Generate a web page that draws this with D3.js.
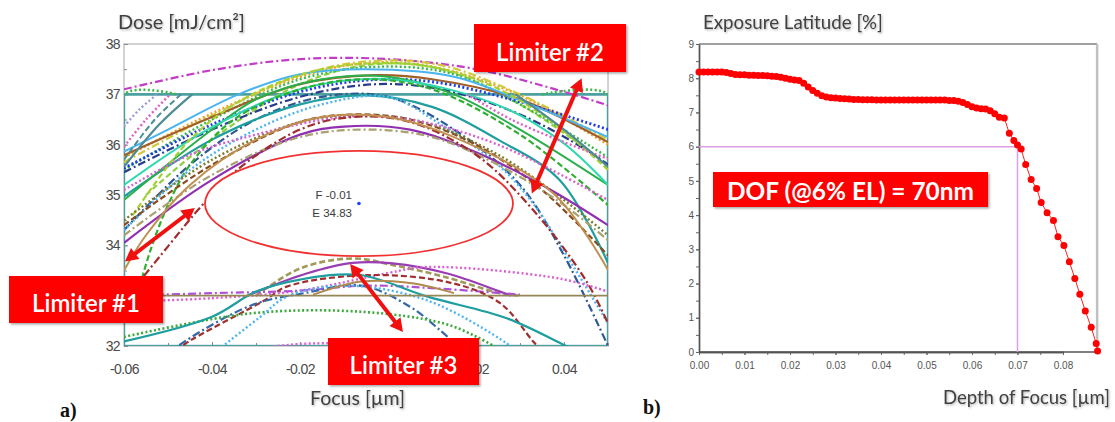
<!DOCTYPE html>
<html>
<head>
<meta charset="utf-8">
<script src="https://cdn.jsdelivr.net/npm/d3@7"></script>
<style>
  html, body { margin: 0; padding: 0; background: #fff; }
  svg { display: block; }
</style>
</head>
<body>
<svg id="fig" width="1115" height="422"></svg>
<script>
// ---------------- Panel (a): dose / focus process window ----------------
const focusTicks = [-0.06, -0.04, -0.02, 0, 0.02, 0.04];
const doseTicks = [32, 33, 34, 35, 36, 37, 38];
// tick labels that sit under the limiter call-outs are left blank
const focusHiddenLabels = [0];
const doseHiddenLabels = [33];

// fitted window: best focus (µm), best dose (mJ/cm²), DOF (µm), EL (%)
const windowFocus = -0.0066;
const windowDose = 34.83;
const windowDOF = 0.070;
const windowEL = 6;

// dose specification lines
const doseUpperSpec = 37;
const doseLowerSpec = 33;

// CD contour lines, [focus, dose] pairs
const upperContours = [
  [[-0.06,37.1],[-0.04,37.48],[-0.02,37.7],[0,37.7],[0.02,37.5],[0.04,37.05],[0.05,36.78]],
  [[-0.06,35.75],[-0.04,36.62],[-0.02,37.35],[-0.005,37.62],[0.01,37.55],[0.03,36.98],[0.05,36.0]],
  [[-0.06,35.65],[-0.04,36.58],[-0.02,37.38],[-0.004,37.66],[0.012,37.58],[0.03,37.0],[0.05,36.1]],
  [[-0.055,35.0],[-0.04,36.1],[-0.02,37.2],[-0.003,37.6],[0.012,37.5],[0.03,36.8],[0.05,35.6]],
  [[-0.06,35.5],[-0.04,36.5],[-0.02,37.3],[-0.002,37.55],[0.015,37.4],[0.03,36.8],[0.05,35.75]],
  [[-0.06,35.79],[-0.04,36.55],[-0.02,37.2],[-0.003,37.38],[0.01,37.3],[0.03,36.9],[0.05,36.05]],
  [[-0.06,35.53],[-0.04,36.4],[-0.02,37.05],[-0.005,37.28],[0.01,37.25],[0.03,36.85],[0.05,36.3]],
  [[-0.06,35.45],[-0.04,36.3],[-0.02,36.95],[-0.003,37.2],[0.012,37.1],[0.03,36.6],[0.045,35.9],[0.05,35.6]],
  [[-0.06,34.3],[-0.045,35.6],[-0.03,36.5],[-0.015,36.95],[0,36.95],[0.015,36.3],[0.03,35.2],[0.04,33.8],[0.05,32.0]],
  [[-0.06,35.86],[-0.05,36.3],[-0.034,37.0],[-0.02,37.4],[-0.005,37.5],[0.015,37.35],[0.035,36.7],[0.05,36.15]],
  [[-0.06,34.97],[-0.04,36.1],[-0.02,36.8],[-0.005,36.98],[0.01,36.75],[0.025,36.1],[0.039,35.3],[0.05,33.65]],
  [[-0.06,34.9],[-0.04,36.3],[-0.03,36.9],[-0.015,37.3],[0,37.35],[0.015,37.0],[0.03,36.3],[0.05,35.2]],
  [[-0.06,35.2],[-0.04,36.35],[-0.02,37.1],[0,37.3],[0.024,36.82],[0.039,36.09],[0.05,35.2]],
  [[-0.058,34.6],[-0.045,36.1],[-0.033,36.9],[-0.015,37.5],[0.005,37.6],[0.02,37.3],[0.035,36.6],[0.05,35.5]],
  [[-0.057,33.0],[-0.054,33.9],[-0.05,34.8],[-0.045,35.6],[-0.035,36.5],[-0.02,37.1],[-0.005,37.3],[0.01,37.1],[0.03,36.2],[0.05,34.8]],
  [[-0.06,34.3],[-0.045,35.5],[-0.03,36.3],[-0.015,36.8],[0,36.95],[0.012,36.4],[0.025,35.6],[0.033,34.83],[0.042,33.6],[0.05,32.45]]
];
const upperStyles = [
  ["#c23cc8","dashdot",2.2],["#f0a020","dot",2.6],["#d2c83c","dashdot",2.2],["#8cd040","dash",2.2],
  ["#3cb84a","dot",2.4],["#a0602a","solid",2.2],["#1e3ce8","dot",2.8],["#283c8c","dashdot",2.2],
  ["#305890","dashdot",2.2],["#4ab4f0","solid",2.0],["#1e9e9e","solid",2.2],["#28b04a","solid",2.0],
  ["#30d8b0","solid",2.0],["#a8d030","dash",2.2],["#30b030","dash",2.2],["#50b4f0","dot",2.4]
];

// contour pieces that run into the window edges
const edgeContours = [
  [[-0.06,35.56],[-0.052,36.4],[-0.0445,37.0]],
  [[-0.06,35.7],[-0.053,36.5],[-0.047,37.0]],
  [[-0.06,36.36],[-0.0565,36.7],[-0.0525,37.0]],
  [[-0.06,35.96],[-0.055,36.5],[-0.0495,37.0]],
  [[0.018,37.0],[0.028,36.5],[0.04,36.05],[0.05,35.72]],
  [[0.029,37.0],[0.04,36.3],[0.05,35.56]],
  [[-0.06,34.9],[-0.06,37.0],[-0.048,37.0]],
  [[0.035,37.0],[0.05,37.0],[0.05,35.9]]
];
const edgeStyles = [
  ["#4e8c94","solid",2.2],["#4e8c94","dash",2.0],["#9a9ae0","dot",2.4],["#e060c8","dot",2.4],
  ["#e060c8","dot",2.4],["#4e8c94","solid",2.2],["#3cb84a","dot",2.6],["#3cb84a","dot",2.6]
];

const middleContours = [
  [[-0.06,34.4],[-0.04,35.6],[-0.02,36.45],[-0.008,36.6],[0.005,36.5],[0.02,36.0],[0.035,35.1],[0.05,33.8]],
  [[-0.06,34.5],[-0.04,35.7],[-0.02,36.45],[-0.006,36.58],[0.008,36.45],[0.025,35.8],[0.04,34.9],[0.05,34.2]],
  [[-0.06,34.05],[-0.04,35.3],[-0.02,36.2],[-0.01,36.36],[0.005,36.3],[0.02,35.85],[0.037,35.1],[0.05,34.4]],
  [[-0.06,34.2],[-0.04,35.4],[-0.02,36.15],[-0.005,36.3],[0.01,36.15],[0.025,35.6],[0.04,34.8],[0.05,34.1]],
  [[-0.06,35.1],[-0.045,35.8],[-0.03,36.2],[-0.01,36.55],[0.005,36.5],[0.025,36.0],[0.05,34.9]],
  [[-0.06,32.9],[-0.05,33.98],[-0.043,34.72],[-0.035,35.45],[-0.02,36.3],[-0.008,36.55],[0.005,36.45],[0.02,35.8],[0.033,34.7],[0.045,33.3],[0.05,32.45]],
  [[-0.06,33.5],[-0.055,34.2],[-0.045,35.2],[-0.03,36.1],[-0.015,36.55],[0,36.55],[0.015,36.15],[0.0376,35.03],[0.05,33.51]]
];
const middleStyles = [
  ["#8b4a1e","dash",2.2],["#7a7a30","dot",2.4],["#9030b0","solid",2.2],["#a8a070","dashdot",2.2],
  ["#d860d0","dot",2.4],["#a02c2c","dashdot",2.2],["#c09050","solid",2.0]
];

const lowerContours = [
  [[-0.03,33.0],[-0.02,33.54],[-0.008,33.74],[0.001,33.61],[0.0126,33.38],[0.0255,33.05],[0.03,33.0]],
  [[-0.032,33.0],[-0.0185,33.44],[-0.008,33.65],[0.001,33.64],[0.0135,33.44],[0.0255,33.08],[0.028,33.0]],
  [[-0.06,32.88],[-0.04,32.95],[-0.02,33.1],[0,33.45],[0.0088,33.57],[0.039,33.34],[0.05,33.08]],
  [[-0.06,33.0],[-0.04,33.05],[-0.02,33.1],[-0.005,33.2],[0.01,33.15],[0.03,33.02]],
  [[-0.048,31.9],[-0.046,32.05],[-0.028,32.91],[-0.023,33.18],[-0.004,33.41],[0.015,33.24],[0.0255,32.85],[0.033,32.09],[0.036,31.8]],
  [[-0.05,31.8],[-0.048,31.98],[-0.031,32.81],[-0.019,33.05],[-0.006,33.2],[0.005,32.78],[0.012,32.3],[0.017,31.9]],
  [[-0.06,32.18],[-0.031,32.65],[-0.006,32.68],[0.0126,32.45],[0.0202,32.18],[0.025,31.95]],
  [[-0.04,31.8],[-0.038,31.96],[-0.029,32.58],[-0.023,32.98],[-0.01,33.2],[0.0088,32.91],[0.027,32.05],[0.029,31.9]],
  [[-0.06,32.09],[-0.04,32.58],[-0.03,33.08],[-0.02,33.32],[-0.0064,33.41],[0.009,32.98],[0.027,32.55],[0.04,32.02],[0.045,31.8]],
  [[-0.017,33.02],[-0.006,33.28],[0.005,33.25],[0.015,33.05]],
  [[-0.03,31.95],[-0.02,32.04],[-0.012,32.05],[-0.005,32.0]]
];
const lowerStyles = [
  ["#a09a58","dash",2.6],["#9a3cb4","solid",2.2],["#d860d0","dot",2.4],["#b050d8","dashdot",2.2],
  ["#a03030","dash",2.2],["#3468a8","dashdot",2.2],["#3aa83a","dot",2.6],["#50b4f0","dot",2.4],
  ["#1e9e9e","solid",2.2],["#b08a50","solid",2.0],["#d860d0","dot",2.4]
];

// double-headed limiter arrows, ends in [focus, dose]
const limiterArrowEnds = [
  [[-0.0598,33.68],[-0.0439,34.74]],
  [[0.044,37.32],[0.0327,35.03]],
  [[-0.0086,33.63],[0.0034,32.28]]
];
const limiterLabels = ["Limiter #1", "Limiter #2", "Limiter #3"];

// ---------------- Panel (b): exposure latitude vs depth of focus ----------------
const dofTicks = [0, 0.01, 0.02, 0.03, 0.04, 0.05, 0.06, 0.07, 0.08];
const elTicks = [0, 1, 2, 3, 4, 5, 6, 7, 8, 9];
const dofValues = [
  0.000,0.001,0.002,0.003,0.004,0.005,0.006,0.007,0.008,0.009,
  0.010,0.011,0.012,0.013,0.014,0.015,0.016,0.017,0.018,0.019,
  0.020,0.021,0.022,0.023,0.024,0.025,0.026,0.027,0.028,0.029,
  0.030,0.031,0.032,0.033,0.034,0.035,0.036,0.037,0.038,0.039,
  0.040,0.041,0.042,0.043,0.044,0.045,0.046,0.047,0.048,0.049,
  0.050,0.051,0.052,0.053,0.054,0.055,0.056,0.057,0.058,0.059,
  0.060,0.061,0.062,0.063,0.064,0.065,
  0.0660,0.0671,0.0682,0.0692,0.0700,0.0708,0.0718,0.0730,0.0742,0.0752,
  0.0765,0.0779,0.0789,0.0802,0.0814,0.0826,0.0837,0.0849,0.0862,0.0873,0.0876
];
const elValues = [
  8.18,8.18,8.18,8.18,8.18,8.18,8.17,8.14,8.11,8.10,
  8.10,8.09,8.09,8.08,8.08,8.07,8.06,8.05,8.03,8.00,
  7.97,7.95,7.93,7.85,7.74,7.64,7.56,7.49,7.45,7.43,
  7.42,7.41,7.40,7.39,7.38,7.38,7.37,7.37,7.37,7.36,
  7.36,7.36,7.36,7.36,7.36,7.36,7.36,7.36,7.36,7.36,
  7.36,7.36,7.36,7.36,7.36,7.35,7.35,7.33,7.29,7.23,
  7.17,7.13,7.11,7.10,7.05,6.96,
  6.86,6.84,6.39,6.18,6.05,5.93,5.48,5.04,4.78,4.37,
  4.07,3.84,3.37,3.11,2.64,2.15,1.69,1.20,0.72,0.25,0.03
];
const elThreshold = 6;
const dofAtThreshold = 0.07;
const dofLabel = "DOF (@6% EL) = 70nm";

// ======================= drawing =======================
const svg = d3.select("#fig");
const defs = svg.append("defs");

const shadow = defs.append("filter").attr("id", "shadow")
  .attr("x", "-10%").attr("y", "-20%").attr("width", "130%").attr("height", "160%");
shadow.append("feDropShadow").attr("dx", 1.5).attr("dy", 1.5)
  .attr("stdDeviation", 1.2).attr("flood-color", "#000").attr("flood-opacity", 0.35);

const softText = defs.append("filter").attr("id", "softText")
  .attr("x", "-5%").attr("y", "-30%").attr("width", "115%").attr("height", "170%");
softText.append("feDropShadow").attr("dx", 1).attr("dy", 1.2)
  .attr("stdDeviation", 0.9).attr("flood-color", "#000").attr("flood-opacity", 0.3);

const dashes = { solid: null, dot: "2,2.4", dash: "6,3", dashdot: "8,3,2,3" };

function fitWidth(sel, w) {
  const fs = parseFloat(sel.attr("font-size"));
  const cur = sel.node().getComputedTextLength();
  if (cur > 0) sel.attr("font-size", (fs * w / cur).toFixed(2));
  return sel;
}

// ---------- panel (a) ----------
const xA = d3.scaleLinear().domain([-0.06, 0.05]).range([124, 608]);
const yA = d3.scaleLinear().domain([32, 38]).range([346, 44]);

defs.append("clipPath").attr("id", "clipA").append("rect")
  .attr("x", xA(-0.06)).attr("y", yA(38))
  .attr("width", xA(0.05) - xA(-0.06)).attr("height", yA(32) - yA(38));

const gA = svg.append("g");

// plot frame
gA.append("rect")
  .attr("x", xA(-0.06)).attr("y", yA(38))
  .attr("width", xA(0.05) - xA(-0.06)).attr("height", yA(32) - yA(38))
  .attr("fill", "#fff").attr("stroke", "#c4c4c4").attr("stroke-width", 1.5);

// axes
const axFont = "'Liberation Sans', Arial, sans-serif";
gA.append("g").attr("transform", `translate(0,${yA(32)})`)
  .call(d3.axisBottom(xA).tickValues(focusTicks)
    .tickFormat(d => focusHiddenLabels.includes(d) ? "" : d.toFixed(2))
    .tickSizeInner(-4).tickSizeOuter(0).tickPadding(18));
gA.append("g").attr("transform", `translate(0,${yA(32)})`)
  .call(d3.axisBottom(xA).ticks(11).tickFormat("").tickSizeInner(-3).tickSizeOuter(0));
gA.append("g").attr("transform", `translate(${xA(-0.06)},0)`)
  .call(d3.axisLeft(yA).tickValues(doseTicks)
    .tickFormat(d => doseHiddenLabels.includes(d) ? "" : d3.format("d")(d))
    .tickSizeInner(-4).tickSizeOuter(0).tickPadding(4));
gA.append("g").attr("transform", `translate(${xA(-0.06)},0)`)
  .call(d3.axisLeft(yA).ticks(12).tickFormat("").tickSizeInner(-3).tickSizeOuter(0));
gA.selectAll(".domain").remove();
gA.selectAll(".tick line").attr("stroke", "#8a8a8a");
gA.selectAll(".tick text").attr("font-family", axFont).attr("font-size", 14)
  .attr("fill", "#4a4a4a").attr("letter-spacing", "-0.6");

// contours
const contourLine = d3.line()
  .x(d => xA(d[0])).y(d => yA(d[1]))
  .curve(d3.curveCatmullRom.alpha(0.5));
const straightLine = d3.line().x(d => xA(d[0])).y(d => yA(d[1]));

const gC = svg.append("g").attr("clip-path", "url(#clipA)");

// specification window
gC.append("path")
  .attr("d", straightLine([[-0.06, doseUpperSpec], [0.05, doseUpperSpec]]))
  .attr("fill", "none").attr("stroke", "#5aa6a6").attr("stroke-width", 2.4);
gC.append("rect")
  .attr("x", xA(-0.06)).attr("y", yA(doseUpperSpec))
  .attr("width", xA(0.05) - xA(-0.06)).attr("height", yA(32) - yA(doseUpperSpec))
  .attr("fill", "none").attr("stroke", "#4aa0a0").attr("stroke-width", 2.4);

function drawSet(set, styles) {
  gC.selectAll(null).data(set).join("path")
    .attr("d", d => contourLine(d))
    .attr("fill", "none")
    .attr("stroke", (d, i) => styles[i][0])
    .attr("stroke-width", (d, i) => styles[i][2])
    .attr("stroke-dasharray", (d, i) => dashes[styles[i][1]]);
}
drawSet(upperContours, upperStyles);
drawSet(edgeContours, edgeStyles);
drawSet(middleContours, middleStyles);
drawSet(lowerContours, lowerStyles);

// lower dose specification
gC.append("path")
  .attr("d", straightLine([[-0.06, doseLowerSpec], [0.05, doseLowerSpec]]))
  .attr("stroke", "#958656").attr("stroke-width", 1.6);

// process window ellipse
const halfDose = windowDose * windowEL / 200;
gC.append("ellipse")
  .attr("cx", xA(windowFocus)).attr("cy", yA(windowDose))
  .attr("rx", xA(windowFocus + windowDOF / 2) - xA(windowFocus))
  .attr("ry", yA(windowDose - halfDose) - yA(windowDose))
  .attr("fill", "#fff").attr("stroke", "#f23030").attr("stroke-width", 1.8);
gC.append("circle")
  .attr("cx", xA(windowFocus)).attr("cy", yA(windowDose)).attr("r", 1.8)
  .attr("fill", "#2040ff");
const centerLabel = svg.append("g").attr("font-family", axFont).attr("font-size", 11.5)
  .attr("fill", "#3a3a3a").attr("text-anchor", "end");
centerLabel.append("text")
  .attr("x", xA(windowFocus) - 7).attr("y", yA(windowDose) - 8.5)
  .attr("dominant-baseline", "central")
  .text("F " + windowFocus.toFixed(2));
centerLabel.append("text")
  .attr("x", xA(windowFocus) - 7).attr("y", yA(windowDose) + 9.5)
  .attr("dominant-baseline", "central")
  .text("E " + windowDose.toFixed(2));

// axis titles for (a)
const titleFont = "Lato, 'Open Sans', sans-serif";
fitWidth(svg.append("text").attr("x", 118).attr("y", 21).attr("dominant-baseline", "central")
  .attr("font-family", titleFont).attr("font-size", 15).attr("fill", "#404040")
  .attr("filter", "url(#softText)").text("Dose [mJ/cm²]"), 127);
fitWidth(svg.append("text").attr("x", 310).attr("y", 397).attr("dominant-baseline", "central")
  .attr("font-family", titleFont).attr("font-size", 15).attr("fill", "#404040")
  .attr("filter", "url(#softText)").text("Focus [µm]"), 95);

// ---------- panel (b) ----------
const xB = d3.scaleLinear().domain([0, 0.08]).range([699, 1063]);
const yB = d3.scaleLinear().domain([0, 9]).range([352, 44]);
const dofEdge = 0.0875;

const gB = svg.append("g");
// top and right frame
gB.append("line").attr("x1", xB(0)).attr("x2", xB(dofEdge)).attr("y1", yB(9)).attr("y2", yB(9))
  .attr("stroke", "#a0a0a0").attr("stroke-width", 1.8);
gB.append("line").attr("x1", xB(dofEdge)).attr("x2", xB(dofEdge)).attr("y1", yB(9)).attr("y2", yB(0))
  .attr("stroke", "#c0c0c0").attr("stroke-width", 2.5);

gB.append("g").attr("transform", `translate(0,${yB(0)})`)
  .call(d3.axisBottom(xB).tickValues(dofTicks).tickFormat(d => d.toFixed(2))
    .tickSizeInner(3).tickSizeOuter(0).tickPadding(7));
gB.append("g").attr("transform", `translate(0,${yB(0)})`)
  .call(d3.axisBottom(xB).ticks(16).tickFormat("").tickSizeInner(3).tickSizeOuter(0));
gB.append("line").attr("x1", xB(0)).attr("x2", xB(dofEdge)).attr("y1", yB(0)).attr("y2", yB(0))
  .attr("stroke", "#555").attr("stroke-width", 1.4);
gB.append("g").attr("transform", `translate(${xB(0)},0)`)
  .call(d3.axisLeft(yB).tickValues(elTicks).tickFormat(d3.format("d"))
    .tickSizeInner(3).tickSizeOuter(0).tickPadding(2));
gB.append("g").attr("transform", `translate(${xB(0)},0)`)
  .call(d3.axisLeft(yB).ticks(18).tickFormat("").tickSizeInner(3).tickSizeOuter(0));
gB.selectAll(".domain").attr("stroke", "#555").attr("stroke-width", 1.4);
gB.selectAll(".tick line").attr("stroke", "#666");
gB.selectAll(".tick text").attr("font-family", axFont).attr("font-size", 10)
  .attr("fill", "#555");

// 6% EL reference lines
gB.append("path")
  .attr("d", d3.line()([[xB(0), yB(elThreshold)], [xB(dofAtThreshold), yB(elThreshold)], [xB(dofAtThreshold), yB(0)]]))
  .attr("fill", "none").attr("stroke", "#d9a0e6").attr("stroke-width", 1.5);

// EL vs DOF series
const elPoints = dofValues.map((d, i) => [d, elValues[i]]);
gB.append("path")
  .attr("d", d3.line().x(d => xB(d[0])).y(d => yB(d[1]))(elPoints))
  .attr("fill", "none").attr("stroke", "#ff2020").attr("stroke-width", 1);
gB.selectAll(null).data(elPoints).join("circle")
  .attr("cx", d => xB(d[0])).attr("cy", d => yB(d[1])).attr("r", 3.5)
  .attr("fill", "#ff0000");

// titles for (b)
fitWidth(svg.append("text").attr("x", 703).attr("y", 22).attr("dominant-baseline", "central")
  .attr("font-family", titleFont).attr("font-size", 15).attr("fill", "#404040")
  .attr("filter", "url(#softText)").text("Exposure Latitude [%]"), 180);
fitWidth(svg.append("text").attr("x", 943).attr("y", 397).attr("dominant-baseline", "central")
  .attr("font-family", titleFont).attr("font-size", 15).attr("fill", "#404040")
  .attr("filter", "url(#softText)").text("Depth of Focus [µm]"), 167);

// DOF callout box
const dofBox = { x: 713, y: 172, w: 275, h: 35 };
svg.append("rect").attr("x", dofBox.x).attr("y", dofBox.y).attr("width", dofBox.w).attr("height", dofBox.h)
  .attr("fill", "#ff0000").attr("filter", "url(#shadow)");
fitWidth(svg.append("text").attr("x", dofBox.x + dofBox.w / 2).attr("y", dofBox.y + dofBox.h / 2 + 1)
  .attr("text-anchor", "middle").attr("dominant-baseline", "central")
  .attr("font-family", titleFont).attr("font-weight", 700).attr("font-size", 21)
  .attr("fill", "#fff").text(dofLabel), 247);

// ---------- limiter arrows and boxes ----------
function doubleArrow(p, q) {
  const [x1, y1] = [xA(p[0]), yA(p[1])];
  const [x2, y2] = [xA(q[0]), yA(q[1])];
  const len = Math.hypot(x2 - x1, y2 - y1);
  const ux = (x2 - x1) / len, uy = (y2 - y1) / len;
  const head = 13, half = 7;
  const g = svg.append("g");
  g.append("line")
    .attr("x1", x1 + ux * (head - 2)).attr("y1", y1 + uy * (head - 2))
    .attr("x2", x2 - ux * (head - 2)).attr("y2", y2 - uy * (head - 2))
    .attr("stroke", "#f01010").attr("stroke-width", 4);
  const tri = (tx, ty, dx, dy) => {
    const bx = tx + dx * head, by = ty + dy * head;
    return [[tx, ty], [bx - dy * half, by + dx * half], [bx + dy * half, by - dx * half]];
  };
  g.append("path").attr("d", d3.line()(tri(x1, y1, ux, uy)) + "Z").attr("fill", "#f01010");
  g.append("path").attr("d", d3.line()(tri(x2, y2, -ux, -uy)) + "Z").attr("fill", "#f01010");
}
limiterArrowEnds.forEach(e => doubleArrow(e[0], e[1]));

const limiterBoxes = [
  { x: 9, y: 276, w: 154, h: 47 },
  { x: 474, y: 24, w: 152, h: 48 },
  { x: 328, y: 338, w: 151, h: 47 }
];
limiterBoxes.forEach((b, i) => {
  svg.append("rect").attr("x", b.x).attr("y", b.y).attr("width", b.w).attr("height", b.h)
    .attr("fill", "#ff0000").attr("filter", "url(#shadow)");
  fitWidth(svg.append("text").attr("x", b.x + b.w / 2).attr("y", b.y + b.h / 2 + 3)
    .attr("text-anchor", "middle").attr("dominant-baseline", "central")
    .attr("font-family", titleFont).attr("font-weight", 600).attr("font-size", 22)
    .attr("fill", "#fff").text(limiterLabels[i]), 108);
});

// panel letters
const letterFont = "'Liberation Serif', 'Times New Roman', serif";
svg.append("text").attr("x", 60).attr("y", 410).attr("dominant-baseline", "central")
  .attr("font-family", letterFont).attr("font-weight", 700).attr("font-size", 20)
  .attr("fill", "#111").text("a)");
svg.append("text").attr("x", 643).attr("y", 407).attr("dominant-baseline", "central")
  .attr("font-family", letterFont).attr("font-weight", 700).attr("font-size", 20)
  .attr("fill", "#111").text("b)");
</script>
</body>
</html>
